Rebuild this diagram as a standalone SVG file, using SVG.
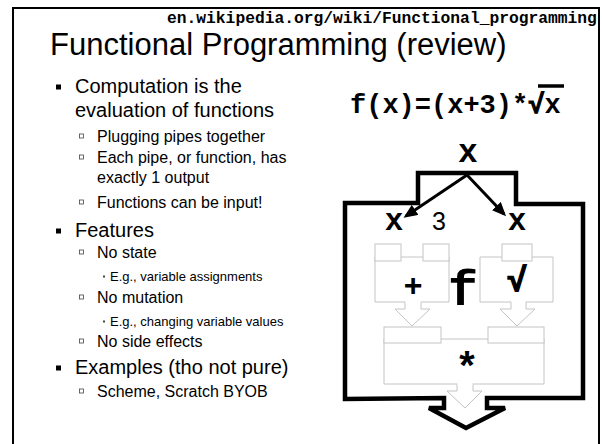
<svg xmlns="http://www.w3.org/2000/svg" width="602" height="444" viewBox="0 0 602 444">
  <style>
    .sans { font-family: "Liberation Sans", Arial, sans-serif; fill: #000; }
    .mono { font-family: "Liberation Mono", "Courier New", monospace; font-weight: bold; fill: #000; }
    .l1 { font-size: 20px; }
    .l2 { font-size: 16px; }
    .l3 { font-size: 13px; }
    .box { fill: #fff; stroke: #c4c4c4; stroke-width: 1; }
    .pipe { fill: none; stroke: #000; stroke-width: 4.5; stroke-linejoin: miter; }
    .arrow { fill: none; stroke: #000; stroke-width: 3; }
    .hollow { fill: none; stroke: #444; stroke-width: 0.8; }
  </style>
  <defs>
    <marker id="head" markerWidth="14" markerHeight="12" refX="11" refY="6" orient="auto" markerUnits="userSpaceOnUse" viewBox="0 0 14 12">
      <path d="M0,0 L14,6 L0,12 Z" fill="#000"/>
    </marker>
  </defs>

  <rect width="602" height="444" fill="#fff"/>
  <!-- slide frame -->
  <rect x="13" y="8" width="586" height="460" fill="none" stroke="#000" stroke-width="2"/>

  <!-- header -->
  <text class="mono" x="167" y="23" font-size="16.3">en.wikipedia.org/wiki/Functional_programming</text>
  <text class="sans" x="50" y="55" font-size="31">Functional Programming (review)</text>

  <!-- bullet list -->
  <g id="bullets">
    <rect x="56" y="84.5" width="5" height="5" fill="#000"/>
    <text class="sans l1" x="75" y="93">Computation is the</text>
    <text class="sans l1" x="75" y="117">evaluation of functions</text>
    <rect class="hollow" x="79.5" y="134" width="4" height="4"/>
    <text class="sans l2" x="97" y="142">Plugging pipes together</text>
    <rect class="hollow" x="79.5" y="155" width="4" height="4"/>
    <text class="sans l2" x="97" y="163">Each pipe, or function, has</text>
    <text class="sans l2" x="97" y="183">exactly 1 output</text>
    <rect class="hollow" x="79.5" y="200" width="4" height="4"/>
    <text class="sans l2" x="97" y="208">Functions can be input!</text>
    <rect x="56" y="228.5" width="5" height="5" fill="#000"/>
    <text class="sans l1" x="75" y="237">Features</text>
    <rect class="hollow" x="79.5" y="250" width="4" height="4"/>
    <text class="sans l2" x="97" y="258">No state</text>
    <rect x="103" y="275.5" width="2" height="2" fill="#444"/>
    <text class="sans l3" x="110" y="281">E.g., variable assignments</text>
    <rect class="hollow" x="79.5" y="295" width="4" height="4"/>
    <text class="sans l2" x="97" y="303">No mutation</text>
    <rect x="103" y="320.5" width="2" height="2" fill="#444"/>
    <text class="sans l3" x="110" y="326">E.g., changing variable values</text>
    <rect class="hollow" x="79.5" y="339" width="4" height="4"/>
    <text class="sans l2" x="97" y="347">No side effects</text>
    <rect x="56" y="365.5" width="5" height="5" fill="#000"/>
    <text class="sans l1" x="75" y="374">Examples (tho not pure)</text>
    <rect class="hollow" x="79.5" y="389" width="4" height="4"/>
    <text class="sans l2" x="97" y="397">Scheme, Scratch BYOB</text>
  </g>

  <!-- formula -->
  <g id="formula">
    <text class="mono" x="350" y="113" font-size="27">f(x)=(x+3)*<tspan stroke="#000" stroke-width="1.2">√</tspan>x</text>
    <line x1="538" y1="86" x2="564" y2="86" stroke="#000" stroke-width="3.5"/>
  </g>

  <!-- inner function blocks -->
  <g id="plus-block">
    <path class="box" d="M375,257 H449 V302 H375 Z"/>
    <rect class="box" x="375" y="244" width="26" height="17"/>
    <rect class="box" x="423" y="244" width="26" height="17"/>
    <path class="box" d="M405,302 V309 H395 L412,326 L430,309 H421 V302"/>
    <line x1="405.5" y1="302" x2="420.5" y2="302" stroke="#fff" stroke-width="2"/>
    <text class="sans" x="413" y="296" font-size="32" font-weight="bold" text-anchor="middle">+</text>
  </g>
  <g id="sqrt-block">
    <path class="box" d="M480,257 H553 V302 H480 Z"/>
    <rect class="box" x="502" y="244" width="30" height="17"/>
    <path class="box" d="M511,302 V309 H500 L517,326 L535,309 H526 V302"/>
    <line x1="511.5" y1="302" x2="525.5" y2="302" stroke="#fff" stroke-width="2"/>
    <text class="sans" x="517" y="291" font-size="33" font-weight="bold" text-anchor="middle" stroke="#000" stroke-width="1.5">√</text>
  </g>
  <g id="times-block">
    <path class="box" d="M384,339 H544 V384 H384 Z"/>
    <rect class="box" x="384" y="327" width="57" height="16"/>
    <rect class="box" x="488" y="327" width="56" height="16"/>
    <path class="box" d="M457,384 V391 H447 L465,408 L482,391 H473 V384"/>
    <line x1="457.5" y1="384" x2="472.5" y2="384" stroke="#fff" stroke-width="2"/>
    <text class="mono" x="467" y="381" font-size="40" text-anchor="middle">*</text>
  </g>
  <g id="f-label">
    <text class="mono" x="463" y="305" font-size="50" text-anchor="middle">f</text>
  </g>

  <!-- outer pipe f -->
  <g id="pipe-f">
    <path class="pipe" d="M345,399 V203 H418 V173 H516 V204 H583 V398 H487 V408 H505 L466,428 L429,408 H444 V398 Z"/>
  </g>

  <!-- labels at the pipe inputs -->
  <g id="input-labels">
    <text class="mono" x="468" y="162" font-size="33" text-anchor="middle">x</text>
    <text class="mono" x="394" y="230" font-size="31" text-anchor="middle">x</text>
    <text class="sans" x="439" y="230" font-size="25" text-anchor="middle">3</text>
    <text class="mono" x="517" y="230" font-size="31" text-anchor="middle">x</text>
  </g>

  <!-- connectors -->
  <g id="connectors">
    <line class="arrow" x1="467" y1="175" x2="406" y2="216" marker-end="url(#head)"/>
    <line class="arrow" x1="467" y1="175" x2="504" y2="214" marker-end="url(#head)"/>
  </g>
</svg>
